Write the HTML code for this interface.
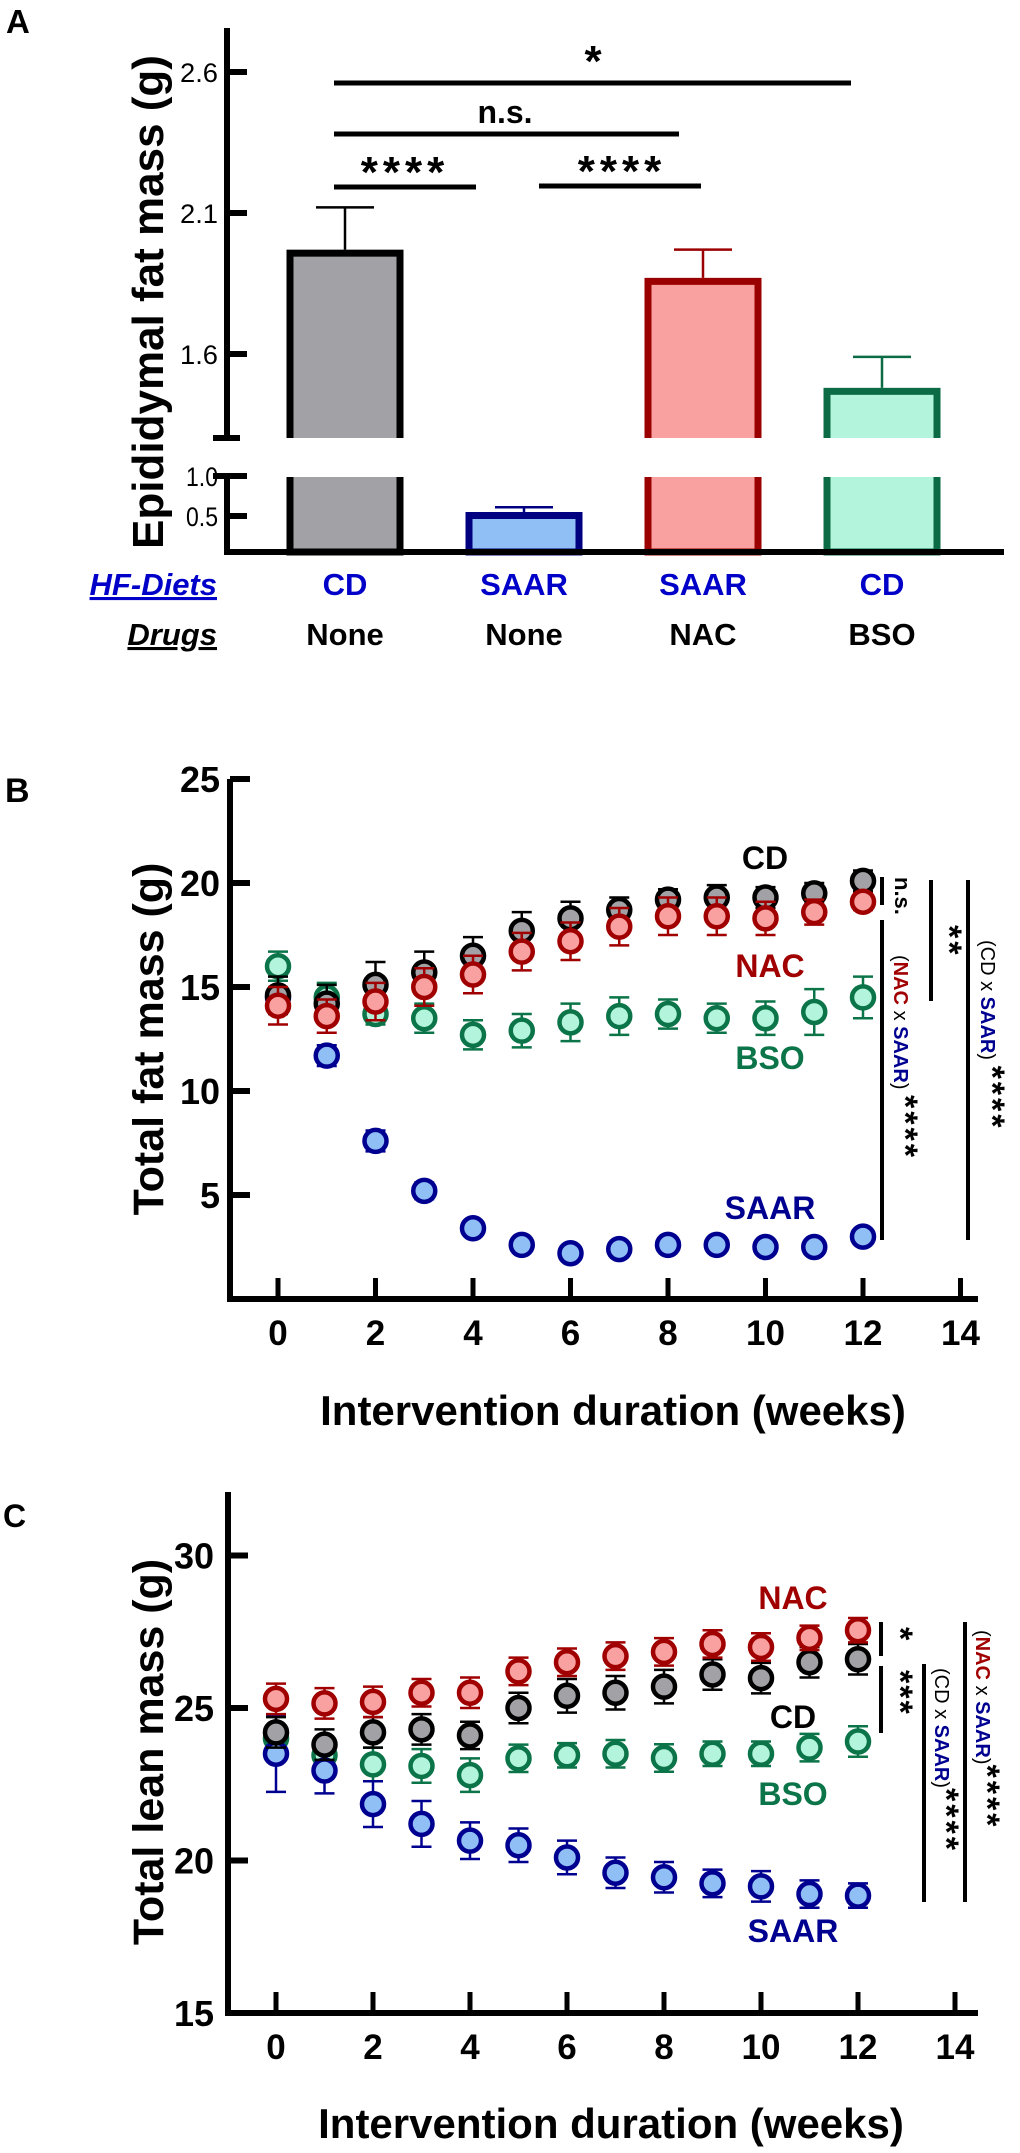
<!DOCTYPE html>
<html><head><meta charset="utf-8">
<style>
html,body{margin:0;padding:0;background:#fff;}
svg{display:block;font-family:"Liberation Sans",Arial,sans-serif;}
</style></head>
<body>
<svg id="fig" width="1020" height="2153" viewBox="0 0 1020 2153" xmlns="http://www.w3.org/2000/svg">
  <!-- Panel labels -->
  <text x="6" y="33" font-size="33" font-weight="bold">A</text>
  <text x="5" y="802" font-size="34" font-weight="bold">B</text>
  <text x="3" y="1527" font-size="32" font-weight="bold">C</text>

  <!-- ========== Panel A ========== -->
  <g id="panelA">
    <text transform="translate(163,302) rotate(-90)" text-anchor="middle" font-size="44" font-weight="bold">Epididymal fat mass (g)</text>
    <g id="barsA"></g>
    <g id="axisA" stroke="#000"></g>
    <!-- significance -->
    <line x1="334" y1="83" x2="851" y2="83" stroke="#000" stroke-width="5"/>
    <text x="593" y="76" text-anchor="middle" font-size="44" font-weight="bold">*</text>
    <line x1="334" y1="134" x2="679" y2="134" stroke="#000" stroke-width="5"/>
    <text x="505" y="123" text-anchor="middle" font-size="32" font-weight="bold">n.s.</text>
    <line x1="334" y1="187" x2="476" y2="187" stroke="#000" stroke-width="5"/>
    <text x="405" y="187" text-anchor="middle" font-size="44" font-weight="bold" letter-spacing="5">****</text>
    <line x1="539" y1="186" x2="701" y2="186" stroke="#000" stroke-width="5"/>
    <text x="622" y="186" text-anchor="middle" font-size="44" font-weight="bold" letter-spacing="5">****</text>
    <text x="217" y="595" text-anchor="end" font-size="31" font-weight="bold" font-style="italic" fill="#0000c8" text-decoration="underline">HF-Diets</text>
    <text x="217" y="645" text-anchor="end" font-size="31" font-weight="bold" font-style="italic" fill="#000" text-decoration="underline">Drugs</text>
    <g id="catA"></g>
  </g>

  <!-- ========== Panel B ========== -->
  <g id="panelB">
    <text transform="translate(163,1039) rotate(-90)" text-anchor="middle" font-size="43" font-weight="bold">Total fat mass (g)</text>
    <text x="613" y="1425" text-anchor="middle" font-size="42" font-weight="bold">Intervention duration (weeks)</text>
    <g id="axisB"></g>
    <g id="seriesB"></g>
    <text x="765" y="869" text-anchor="middle" font-size="32" font-weight="bold" fill="#000">CD</text>
    <text x="770" y="977" text-anchor="middle" font-size="32" font-weight="bold" fill="#a00000">NAC</text>
    <text x="770" y="1069" text-anchor="middle" font-size="32" font-weight="bold" fill="#0b7448">BSO</text>
    <text x="770" y="1219" text-anchor="middle" font-size="32" font-weight="bold" fill="#000090">SAAR</text>
    <line x1="882" y1="877" x2="882" y2="905" stroke="#000" stroke-width="4"/>
    <text transform="translate(895,877) rotate(90)" font-size="22" font-weight="bold">n.s.</text>
    <line x1="882" y1="920" x2="882" y2="1240" stroke="#000" stroke-width="4"/>
    <text transform="translate(894,955) rotate(90)" font-size="20">(<tspan fill="#a00000" font-weight="bold">NAC</tspan> x <tspan fill="#000090" font-weight="bold">SAAR</tspan>) <tspan font-size="34" font-weight="bold" letter-spacing="3">****</tspan></text>
    <line x1="931" y1="880" x2="931" y2="1001" stroke="#000" stroke-width="4"/>
    <text transform="translate(938,925) rotate(90)" font-size="34" font-weight="bold" letter-spacing="3">**</text>
    <line x1="968" y1="880" x2="968" y2="1240" stroke="#000" stroke-width="4"/>
    <text transform="translate(981,940) rotate(90)" font-size="20">(CD x <tspan fill="#000090" font-weight="bold">SAAR</tspan>) <tspan font-size="34" font-weight="bold" letter-spacing="3">****</tspan></text>
  </g>

  <!-- ========== Panel C ========== -->
  <g id="panelC">
    <text transform="translate(163,1752) rotate(-90)" text-anchor="middle" font-size="43" font-weight="bold">Total lean mass (g)</text>
    <text x="611" y="2138" text-anchor="middle" font-size="42" font-weight="bold">Intervention duration (weeks)</text>
    <g id="axisC"></g>
    <g id="seriesC"></g>
    <text x="793" y="1609" text-anchor="middle" font-size="32" font-weight="bold" fill="#a00000">NAC</text>
    <text x="793" y="1728" text-anchor="middle" font-size="32" font-weight="bold" fill="#000">CD</text>
    <text x="793" y="1805" text-anchor="middle" font-size="32" font-weight="bold" fill="#0b7448">BSO</text>
    <text x="793" y="1942" text-anchor="middle" font-size="32" font-weight="bold" fill="#000090">SAAR</text>
    <line x1="881" y1="1622" x2="881" y2="1656" stroke="#000" stroke-width="4"/>
    <text transform="translate(889,1627) rotate(90)" font-size="34" font-weight="bold">*</text>
    <line x1="881" y1="1666" x2="881" y2="1733" stroke="#000" stroke-width="4"/>
    <text transform="translate(889,1670) rotate(90)" font-size="34" font-weight="bold" letter-spacing="2">***</text>
    <line x1="924" y1="1664" x2="924" y2="1902" stroke="#000" stroke-width="4"/>
    <text transform="translate(935,1668) rotate(90)" font-size="20">(CD x <tspan fill="#000090" font-weight="bold">SAAR</tspan>)<tspan font-size="34" font-weight="bold" letter-spacing="3">****</tspan></text>
    <line x1="965" y1="1622" x2="965" y2="1902" stroke="#000" stroke-width="4"/>
    <text transform="translate(976,1630) rotate(90)" font-size="20">(<tspan fill="#a00000" font-weight="bold">NAC</tspan> x <tspan fill="#000090" font-weight="bold">SAAR</tspan>)<tspan font-size="34" font-weight="bold" letter-spacing="3">****</tspan></text>
  </g>
</svg>

<script>
// ---------- Panel A data ----------
const aDiets = ['CD', 'SAAR', 'SAAR', 'CD'];
const aDrugs = ['None', 'None', 'NAC', 'BSO'];
const aValues = [1.97, 0.55, 1.87, 1.48];
const aErrors = [0.15, 0.06, 0.10, 0.11];
const aUpperTicks = [2.6, 2.1, 1.6];
const aLowerTicks = [1.0, 0.5];

// ---------- Panel B data ----------
const bWeeks = [0,1,2,3,4,5,6,7,8,9,10,11,12];
const bTicks = [0,2,4,6,8,10,12,14];
const bYTicks = [5,10,15,20,25];
const bSAAR = [14.5, 11.7, 7.6, 5.2, 3.4, 2.6, 2.2, 2.4, 2.6, 2.6, 2.5, 2.5, 3.0];
const bSAARerr = [0.4, 0.5, 0.5, 0.4, 0.3, 0.3, 0.3, 0.3, 0.3, 0.3, 0.3, 0.3, 0.3];
const bBSO = [16.0, 14.5, 13.7, 13.5, 12.7, 12.9, 13.3, 13.6, 13.7, 13.5, 13.5, 13.8, 14.5];
const bBSOerr = [0.7, 0.7, 0.5, 0.7, 0.7, 0.8, 0.9, 0.9, 0.7, 0.7, 0.8, 1.1, 1.0];
const bCD = [14.6, 14.2, 15.1, 15.7, 16.5, 17.7, 18.3, 18.7, 19.2, 19.3, 19.3, 19.5, 20.1];
const bCDerr = [0.9, 0.9, 1.1, 1.0, 0.9, 0.9, 0.8, 0.6, 0.5, 0.6, 0.5, 0.5, 0.5];
const bNAC = [14.1, 13.6, 14.3, 15.0, 15.6, 16.7, 17.2, 17.9, 18.4, 18.4, 18.3, 18.6, 19.1];
const bNACerr = [0.9, 0.8, 0.9, 0.9, 0.9, 0.9, 0.9, 0.9, 0.9, 0.9, 0.8, 0.6, 0.4];

// ---------- Panel C data ----------
const cWeeks = [0,1,2,3,4,5,6,7,8,9,10,11,12];
const cTicks = [0,2,4,6,8,10,12,14];
const cYTicks = [15,20,25,30];
const cSAAR = [23.5, 22.95, 21.85, 21.2, 20.65, 20.5, 20.1, 19.6, 19.45, 19.25, 19.15, 18.9, 18.85];
const cSAARerr = [1.25, 0.75, 0.75, 0.75, 0.6, 0.55, 0.55, 0.5, 0.5, 0.45, 0.5, 0.45, 0.4];
const cBSO = [24.0, 23.45, 23.15, 23.1, 22.8, 23.35, 23.45, 23.5, 23.36, 23.5, 23.5, 23.7, 23.9];
const cBSOerr = [0.4, 0.5, 0.55, 0.55, 0.55, 0.45, 0.4, 0.45, 0.45, 0.4, 0.4, 0.45, 0.5];
const cCD = [24.2, 23.8, 24.2, 24.3, 24.1, 25.0, 25.4, 25.5, 25.7, 26.1, 25.98, 26.5, 26.6];
const cCDerr = [0.5, 0.5, 0.5, 0.5, 0.45, 0.5, 0.55, 0.55, 0.55, 0.5, 0.5, 0.5, 0.5];
const cNAC = [25.3, 25.15, 25.2, 25.5, 25.5, 26.2, 26.5, 26.7, 26.84, 27.1, 27.0, 27.3, 27.55];
const cNACerr = [0.5, 0.5, 0.5, 0.45, 0.5, 0.45, 0.45, 0.45, 0.45, 0.45, 0.45, 0.4, 0.4];

const NS = 'http://www.w3.org/2000/svg';
function mk(tag, attrs, parent) {
  const e = document.createElementNS(NS, tag);
  for (const k in attrs) e.setAttribute(k, attrs[k]);
  parent.appendChild(e);
  return e;
}

// ---------- Panel A drawing ----------
const yA = v => v >= 1.3 ? 354 - (v - 1.6) * 282 : 556 - v * 80;
const xA = i => 345 + i * 179;
const aStroke = ['#000000', '#000080', '#9b0000', '#0b6b45'];
const aFill = ['#a2a2a6', '#8fbff5', '#f9a1a1', '#b3f5dc'];
const barsA = document.getElementById('barsA');
aValues.forEach((v, i) => {
  const c = xA(i), top = yA(v), eTop = yA(v + aErrors[i]);
  const el = mk('line', {x1: c, y1: eTop, x2: c, y2: top, stroke: aStroke[i], 'stroke-width': 2.5}, barsA);
  
  
  const cap = mk('line', {x1: c - 29, y1: eTop, x2: c + 29, y2: eTop, stroke: aStroke[i], 'stroke-width': 2.5}, barsA);
  
  
  const r = mk('rect', {x: c - 55, y: top + 3.5, width: 110, height: 552 - top - 3.5, fill: aFill[i], stroke: aStroke[i], 'stroke-width': 7}, barsA);
  
  
  if (v > 1.3) {
    const g = mk('rect', {x: c - 62, y: 438, width: 124, height: 39, fill: '#fff'}, barsA);
    
    
  }
});
const axisA = document.getElementById('axisA');
mk('line', {x1: 227, y1: 28, x2: 227, y2: 438, 'stroke-width': 6}, axisA);
mk('line', {x1: 213, y1: 438, x2: 240, y2: 438, 'stroke-width': 6}, axisA);
mk('line', {x1: 227, y1: 476, x2: 227, y2: 555, 'stroke-width': 6}, axisA);
mk('line', {x1: 213, y1: 476, x2: 240, y2: 476, 'stroke-width': 6}, axisA);
mk('line', {x1: 224, y1: 552, x2: 1004, y2: 552, 'stroke-width': 6}, axisA);
aUpperTicks.concat(aLowerTicks).forEach(t => {
  const y = yA(t);
  mk('line', {x1: 227, y1: y, x2: 247, y2: y, 'stroke-width': 6}, axisA);
  const tx = mk('text', {x: 218, y: y + 10, 'text-anchor': 'end', 'font-size': 27, stroke: 'none', fill: '#000', textLength: t >= 1.3 ? 38 : 32, lengthAdjust: 'spacingAndGlyphs'}, axisA);
  tx.textContent = t.toFixed(1);
  
  
});
const catA = document.getElementById('catA');
aDiets.forEach((d, i) => {
  const t1 = mk('text', {x: xA(i), y: 595, 'text-anchor': 'middle', 'font-size': 31, 'font-weight': 'bold', fill: '#0000c8'}, catA);
  t1.textContent = d;
  
  
  const t2 = mk('text', {x: xA(i), y: 645, 'text-anchor': 'middle', 'font-size': 31, 'font-weight': 'bold', fill: '#000'}, catA);
  t2.textContent = aDrugs[i];
  
  
});

// ---------- Line-marker panels ----------
function drawAxes(g, xAxisY, yTop, axisX, xf, yf, xticks, yticks, labelRight) {
  mk('line', {x1: axisX, y1: yTop, x2: axisX, y2: xAxisY + 3, stroke: '#000', 'stroke-width': 6}, g);
  mk('line', {x1: axisX - 3, y1: xAxisY, x2: 978, y2: xAxisY, stroke: '#000', 'stroke-width': 6}, g);
  xticks.forEach(t => {
    const x = xf(t);
    mk('line', {x1: x, y1: xAxisY, x2: x, y2: xAxisY - 21, stroke: '#000', 'stroke-width': 5}, g);
    const tx = mk('text', {x: x, y: xAxisY + 46, 'text-anchor': 'middle', 'font-size': 35, 'font-weight': 'bold'}, g);
    tx.textContent = t;
    
    
  });
  yticks.forEach(t => {
    const y = yf(t);
    mk('line', {x1: axisX, y1: y, x2: axisX + 20, y2: y, stroke: '#000', 'stroke-width': 6}, g);
    const tx = mk('text', {x: labelRight, y: y + 13, 'text-anchor': 'end', 'font-size': 36, 'font-weight': 'bold'}, g);
    tx.textContent = t;
    
    
  });
}
function drawSeries(g, name, weeks, vals, errs, xf, yf, stroke, fill) {
  const sg = mk('g', {}, g);
  
  
  weeks.forEach((w, i) => {
    const x = xf(w), y = yf(vals[i]), y1 = yf(vals[i] + errs[i]), y2 = yf(vals[i] - errs[i]);
    mk('line', {x1: x, y1: y1, x2: x, y2: y2, stroke: stroke, 'stroke-width': 2.5}, sg);
    mk('line', {x1: x - 10, y1: y1, x2: x + 10, y2: y1, stroke: stroke, 'stroke-width': 2.5}, sg);
    mk('line', {x1: x - 10, y1: y2, x2: x + 10, y2: y2, stroke: stroke, 'stroke-width': 2.5}, sg);
    const c = mk('circle', {cx: x, cy: y, r: 11, fill: fill, stroke: stroke, 'stroke-width': 4.5}, sg);
    
    
  });
}

// Panel B
const xB = w => 278 + w * 48.75;
const yB = v => 1299 - v * 20.8;
drawAxes(document.getElementById('axisB'), 1299, 779, 230, xB, yB, bTicks, bYTicks, 220);
const sB = document.getElementById('seriesB');
drawSeries(sB, 'saar', bWeeks, bSAAR, bSAARerr, xB, yB, '#000090', '#8fbff5');
drawSeries(sB, 'bso', bWeeks, bBSO, bBSOerr, xB, yB, '#0b7448', '#b3f5dc');
drawSeries(sB, 'cd', bWeeks, bCD, bCDerr, xB, yB, '#000000', '#a2a2a6');
drawSeries(sB, 'nac', bWeeks, bNAC, bNACerr, xB, yB, '#a00000', '#f9a1a1');

// Panel C
const xC = w => 276 + w * 48.5;
const yC = v => 2013 - (v - 15) * 30.5;
drawAxes(document.getElementById('axisC'), 2013, 1492, 228, xC, yC, cTicks, cYTicks, 214);
const sC = document.getElementById('seriesC');
drawSeries(sC, 'bso', cWeeks, cBSO, cBSOerr, xC, yC, '#0b7448', '#b3f5dc');
drawSeries(sC, 'saar', cWeeks, cSAAR, cSAARerr, xC, yC, '#000090', '#8fbff5');
drawSeries(sC, 'cd', cWeeks, cCD, cCDerr, xC, yC, '#000000', '#a2a2a6');
drawSeries(sC, 'nac', cWeeks, cNAC, cNACerr, xC, yC, '#a00000', '#f9a1a1');
</script>
</body></html>
